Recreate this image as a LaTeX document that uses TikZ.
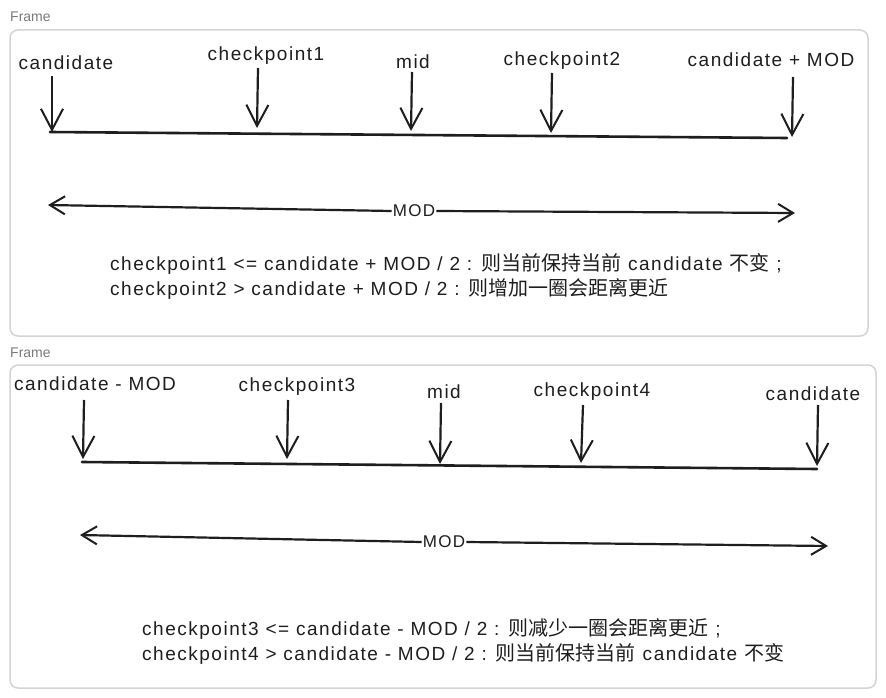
\documentclass[tikz,border=0pt]{standalone}
\usepackage{fontspec}
\setmainfont{Liberation Sans}
\newfontfamily\handfont[LetterSpace=8]{Liberation Sans}
\newfontfamily\cjk{Noto Sans CJK SC}
\newcommand\zhtext[1]{{\cjk\fontsize{20}{25}\selectfont #1}}
\usetikzlibrary{arrows.meta}
\definecolor{ink}{HTML}{1E1E1E}
\definecolor{framegray}{HTML}{D4D4D4}
\definecolor{labelgray}{HTML}{7A7A7A}
\begin{document}
\begin{tikzpicture}[x=1pt,y=-1pt,
  framebox/.style={draw=framegray, line width=1.5pt, rounded corners=8pt, fill=white},
  framelabel/.style={text=labelgray, font=\fontsize{14}{16}\selectfont, anchor=west, inner sep=0pt},
  pointlabel/.style={text=ink, font=\handfont\fontsize{19}{21}\selectfont, inner sep=0pt},
  downarrow/.style={draw=ink, line width=2.2pt, -{Straight Barb[length=21pt,width=22pt,line width=2pt]}},
  numline/.style={draw=ink, line width=2.6pt, line cap=round},
  modarrow/.style={draw=ink, line width=2.2pt, -{Straight Barb[length=15pt,width=18pt,line width=2pt]}},
  modlabel/.style={text=ink, font=\handfont\fontsize{17}{20}\selectfont, inner sep=1pt},
  note/.style={text=ink, font=\handfont\fontsize{19}{25}\selectfont, anchor=west, inner sep=0pt, align=left}
]
\fill[white] (0,0) rectangle (886,698);
\useasboundingbox (0,0) rectangle (886,698);

% ---------- Frame 1 ----------
\node[framelabel] (f1label) at (10,17) {Frame};
\draw[framebox] (10,30) rectangle (868,336);

\coordinate (l1a) at (50,132);
\coordinate (l1b) at (787,138);
\draw[numline] (l1a) -- (l1b);

\node[pointlabel] (p1a) at (66,63) {candidate};
\node[pointlabel] (p1b) at (266,56) {checkpoint1};
\node[pointlabel] (p1c) at (413,62) {mid};
\node[pointlabel] (p1d) at (562,61) {checkpoint2};
\node[pointlabel] (p1e) at (771,60) {candidate + MOD};

\coordinate (t1a) at (52,76);  \coordinate (b1a) at (52,132);
\coordinate (t1b) at (258,68); \coordinate (b1b) at (257,128);
\coordinate (t1c) at (412,72); \coordinate (b1c) at (411,131);
\coordinate (t1d) at (552,73); \coordinate (b1d) at (551,133);
\coordinate (t1e) at (793,77); \coordinate (b1e) at (792,137);
\draw[downarrow] (t1a) -- (b1a);
\draw[downarrow] (t1b) -- (b1b);
\draw[downarrow] (t1c) -- (b1c);
\draw[downarrow] (t1d) -- (b1d);
\draw[downarrow] (t1e) -- (b1e);

\node[modlabel] (m1) at (414,211) {MOD};
\coordinate (m1l) at (48,205);
\coordinate (m1r) at (795,213);
\draw[modarrow] (m1.west) -- (m1l);
\draw[modarrow] (m1.east) -- (m1r);

\node[note] (n1) at (110,276) {checkpoint1 <= candidate + MOD / 2 : \zhtext{则当前保持当前} candidate \zhtext{不变} ;\\
checkpoint2 > candidate + MOD / 2 : \zhtext{则增加一圈会距离更近}};

% ---------- Frame 2 ----------
\node[framelabel] (f2label) at (10,353) {Frame};
\draw[framebox] (10,365) rectangle (876,688);

\coordinate (l2a) at (82,462);
\coordinate (l2b) at (817,469);
\draw[numline] (l2a) -- (l2b);

\node[pointlabel] (p2a) at (95,384) {candidate - MOD};
\node[pointlabel] (p2b) at (297,387) {checkpoint3};
\node[pointlabel] (p2c) at (444,392) {mid};
\node[pointlabel] (p2d) at (592,392) {checkpoint4};
\node[pointlabel] (p2e) at (813,394) {candidate};

\coordinate (t2a) at (84,400);  \coordinate (b2a) at (83,459);
\coordinate (t2b) at (288,400); \coordinate (b2b) at (287,459);
\coordinate (t2c) at (441,403); \coordinate (b2c) at (440,464);
\coordinate (t2d) at (583,405); \coordinate (b2d) at (581,463);
\coordinate (t2e) at (818,405); \coordinate (b2e) at (817,466);
\draw[downarrow] (t2a) -- (b2a);
\draw[downarrow] (t2b) -- (b2b);
\draw[downarrow] (t2c) -- (b2c);
\draw[downarrow] (t2d) -- (b2d);
\draw[downarrow] (t2e) -- (b2e);

\node[modlabel] (m2) at (444,542) {MOD};
\coordinate (m2l) at (80,535);
\coordinate (m2r) at (828,546);
\draw[modarrow] (m2.west) -- (m2l);
\draw[modarrow] (m2.east) -- (m2r);

\node[note] (n2) at (142,641) {checkpoint3 <= candidate - MOD / 2 : \zhtext{则减少一圈会距离更近} ;\\
checkpoint4 > candidate - MOD / 2 : \zhtext{则当前保持当前} candidate \zhtext{不变}};
\end{tikzpicture}
\end{document}
